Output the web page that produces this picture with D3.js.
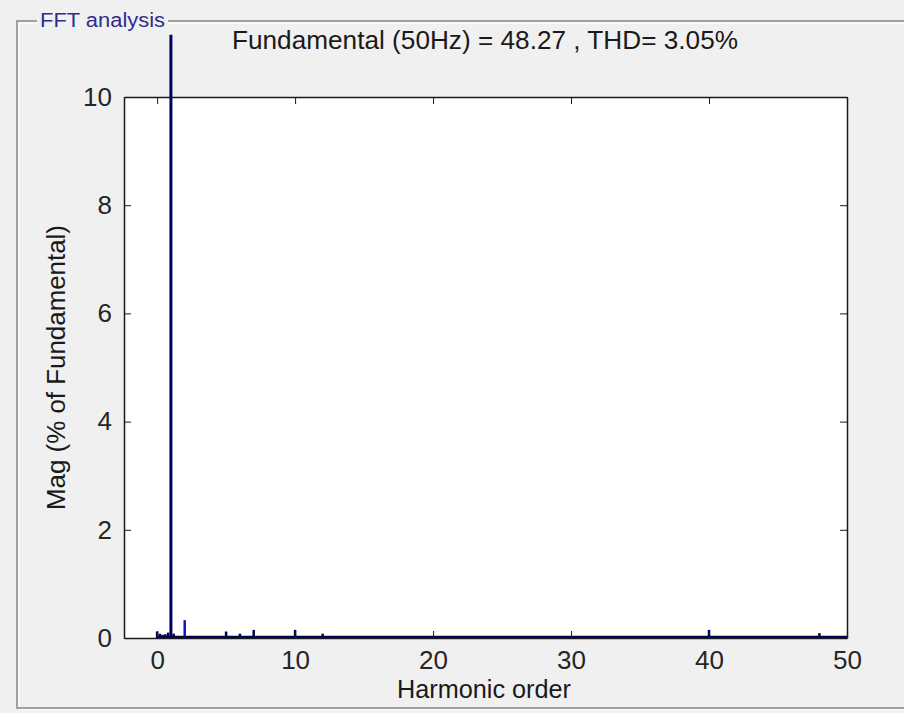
<!DOCTYPE html>
<html>
<head>
<meta charset="utf-8">
<script src="https://cdn.jsdelivr.net/npm/d3@7"></script>
<style>
  html, body { margin: 0; padding: 0; background: #f0f0f0; }
  svg { display: block; font-family: "Liberation Sans", Arial, sans-serif; }
</style>
</head>
<body>
<svg id="chart" width="904" height="713"></svg>
<script>
// Harmonic spectrum (% of fundamental) from the FFT analysis
const orders = [0, 0.2, 0.4, 0.6, 0.8, 1, 1.2, 2, 3, 4, 5, 6, 7, 10, 12, 40, 48];
const mags   = [0.12, 0.08, 0.06, 0.07, 0.1, 11.15, 0.08, 0.33, 0.03, 0.03, 0.12, 0.08, 0.15, 0.15, 0.08, 0.15, 0.09];
const xTicks = [0, 10, 20, 30, 40, 50];
const yTicks = [0, 2, 4, 6, 8, 10];
const titleText = "Fundamental (50Hz) = 48.27 , THD= 3.05%";
const panelTitle = "FFT analysis";

const svg = d3.select("#chart");
const W = 904, H = 713;
const m = { left: 124, right: 847, top: 97, bottom: 638 };

// panel frame (etched border)
const panel = svg.append("g");
const pL = 17, pT = 21, pB = 708;
panel.append("path")
  .attr("d", `M${pL + 20},${pT} H${pL} V${pB} H${W}`)
  .attr("fill", "none").attr("stroke", "#a0a0a0").attr("stroke-width", 2);
panel.append("path")
  .attr("d", `M${pL + 20},${pT + 2} H${pL + 2} V${pB - 2} M${pL + 2},${pB + 2} H${W}`)
  .attr("fill", "none").attr("stroke", "#ffffff").attr("stroke-width", 1);
panel.append("line").attr("x1", 168).attr("x2", W).attr("y1", pT).attr("y2", pT)
  .attr("stroke", "#a0a0a0").attr("stroke-width", 2);
panel.append("line").attr("x1", 168).attr("x2", W).attr("y1", pT + 2).attr("y2", pT + 2)
  .attr("stroke", "#ffffff").attr("stroke-width", 1);
panel.append("text").attr("x", 40).attr("y", 27).attr("font-size", 20)
  .attr("textLength", 125).attr("lengthAdjust", "spacingAndGlyphs")
  .attr("fill", "#2e2e8c").text(panelTitle);

const x = d3.scaleLinear().domain([-2.4, 50]).range([m.left, m.right]);
const y = d3.scaleLinear().domain([0, 10]).range([m.bottom, m.top]);

// axes background
svg.append("rect").attr("x", m.left).attr("y", m.top)
  .attr("width", m.right - m.left).attr("height", m.bottom - m.top)
  .attr("fill", "#ffffff");

// bars
svg.append("g").selectAll("line").data(orders.map((o, i) => ({ o, v: mags[i] })))
  .join("line")
  .attr("x1", d => x(d.o)).attr("x2", d => x(d.o))
  .attr("y1", y(0)).attr("y2", d => y(d.v))
  .attr("stroke", d => d.o === 1 ? "#00005e" : (d.o === 2 ? "#1010c8" : "#000050"))
  .attr("stroke-width", d => d.o === 1 ? 3 : 2.5);

// baseline formed by the low-level spectrum
svg.append("line").attr("x1", x(0)).attr("x2", m.right)
  .attr("y1", y(0) - 1).attr("y2", y(0) - 1)
  .attr("stroke", "#000050").attr("stroke-width", 2.5);

// axes with inward ticks on all four sides
const tickLen = 7;
const fmt = d3.format("d");
svg.append("g").attr("transform", `translate(0,${m.bottom})`)
  .call(d3.axisBottom(x).tickValues(xTicks).tickFormat(fmt).tickSizeInner(-tickLen).tickSizeOuter(0).tickPadding(13));
svg.append("g").attr("transform", `translate(0,${m.top})`)
  .call(d3.axisTop(x).tickValues(xTicks).tickFormat("").tickSizeInner(-tickLen).tickSizeOuter(0));
svg.append("g").attr("transform", `translate(${m.left},0)`)
  .call(d3.axisLeft(y).tickValues(yTicks).tickFormat(fmt).tickSizeInner(-tickLen).tickSizeOuter(0).tickPadding(12));
svg.append("g").attr("transform", `translate(${m.right},0)`)
  .call(d3.axisRight(y).tickValues(yTicks).tickFormat("").tickSizeInner(-tickLen).tickSizeOuter(0));

svg.selectAll(".domain").attr("stroke", "#1a1a1a").attr("stroke-width", 1.5);
svg.selectAll(".tick line").attr("stroke", "#1a1a1a");
svg.selectAll(".tick text").attr("font-size", 26).attr("fill", "#262626")
  .attr("font-family", "Liberation Sans, Arial, sans-serif");

// titles
svg.append("text").attr("x", 485).attr("y", 49).attr("text-anchor", "middle")
  .attr("font-size", 25).attr("fill", "#1a1a1a")
  .attr("textLength", 506).attr("lengthAdjust", "spacingAndGlyphs").text(titleText);
svg.append("text").attr("x", 484).attr("y", 698).attr("text-anchor", "middle")
  .attr("font-size", 25).attr("fill", "#1a1a1a")
  .attr("textLength", 174).attr("lengthAdjust", "spacingAndGlyphs").text("Harmonic order");
svg.append("text").attr("transform", `translate(65,${(m.top + m.bottom) / 2}) rotate(-90)`)
  .attr("text-anchor", "middle").attr("font-size", 25).attr("fill", "#1a1a1a")
  .attr("textLength", 285).attr("lengthAdjust", "spacingAndGlyphs")
  .text("Mag (% of Fundamental)");
</script>
</body>
</html>
